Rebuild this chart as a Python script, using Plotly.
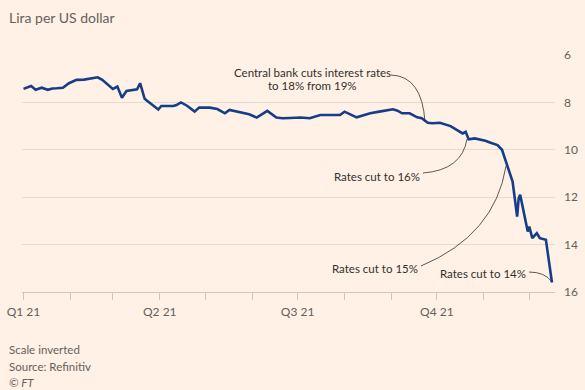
import plotly.graph_objects as go

# ---- data ----
dates = ["2021-01-01", "2021-01-06", "2021-01-09", "2021-01-13", "2021-01-17", "2021-01-20",
         "2021-01-23", "2021-01-27", "2021-01-31", "2021-02-05", "2021-02-10", "2021-02-15",
         "2021-02-19", "2021-02-22", "2021-02-26", "2021-03-01", "2021-03-04", "2021-03-07",
         "2021-03-10", "2021-03-14", "2021-03-17", "2021-03-19", "2021-03-22", "2021-03-24",
         "2021-03-27", "2021-03-31", "2021-04-02", "2021-04-06", "2021-04-10", "2021-04-12",
         "2021-04-15", "2021-04-19", "2021-04-24", "2021-04-27", "2021-05-04", "2021-05-09",
         "2021-05-14", "2021-05-17", "2021-05-22", "2021-05-26", "2021-05-30", "2021-06-04",
         "2021-06-11", "2021-06-17", "2021-06-21", "2021-06-26", "2021-07-03", "2021-07-09",
         "2021-07-16", "2021-07-29", "2021-08-01", "2021-08-09", "2021-08-18", "2021-08-24",
         "2021-09-02", "2021-09-05", "2021-09-08", "2021-09-13", "2021-09-18", "2021-09-21",
         "2021-09-25", "2021-09-28", "2021-10-03", "2021-10-10", "2021-10-14", "2021-10-18",
         "2021-10-20", "2021-10-22", "2021-10-26", "2021-10-30", "2021-11-02", "2021-11-05",
         "2021-11-10", "2021-11-13", "2021-11-15", "2021-11-17", "2021-11-20", "2021-11-23",
         "2021-11-24", "2021-11-25", "2021-11-28", "2021-11-30", "2021-12-01", "2021-12-03",
         "2021-12-06", "2021-12-08", "2021-12-12", "2021-12-13", "2021-12-16"]
lira_per_usd = [7.43, 7.31, 7.47, 7.38, 7.47, 7.41, 7.40, 7.38, 7.19, 7.05, 7.04, 6.98,
                6.94, 7.05, 7.29, 7.43, 7.33, 7.80, 7.52, 7.48, 7.45, 7.19, 7.85, 7.95,
                8.10, 8.30, 8.15, 8.14, 8.15, 8.11, 8.00, 8.14, 8.39, 8.22, 8.22, 8.28,
                8.46, 8.32, 8.39, 8.46, 8.50, 8.64, 8.36, 8.64, 8.67, 8.66, 8.64, 8.67,
                8.53, 8.53, 8.39, 8.63, 8.46, 8.39, 8.29, 8.35, 8.46, 8.46, 8.63, 8.67,
                8.86, 8.88, 8.86, 9.00, 9.14, 9.31, 9.24, 9.56, 9.52, 9.56, 9.62, 9.69,
                9.80, 10.00, 10.36, 10.78, 11.34, 12.82, 12.05, 11.90, 12.82, 13.45, 13.24, 13.73,
                13.52, 13.73, 13.80, 14.23, 15.60]

month_ticks = ["2021-01-01", "2021-02-01", "2021-03-01", "2021-04-01", "2021-05-01", "2021-06-01",
               "2021-07-01", "2021-08-01", "2021-09-01", "2021-10-01", "2021-11-01", "2021-12-01"]
month_tick_labels = ["Q1 21", "", "", "Q2 21", "", "", "Q3 21", "", "", "Q4 21", "", ""]
y_ticks = [6, 8, 10, 12, 14, 16]

annotation_texts = ["Central bank cuts interest rates", "to 18% from 19%",
                    "Rates cut to 16%", "Rates cut to 15%", "Rates cut to 14%"]

# ---- layout geometry ----
W, H = 585, 390
L, R, T, B = 22, 30, 55, 98
PW, PH = W - L - R, H - T - B


def px(x):
    return (x - L) / PW


def py(y):
    return (H - B - y) / PH


BG = "#FFF1E5"
GRID = "#E7DACE"
AXIS = "#CFC5BC"
MUTED = "#66605C"
TEXT = "#33302E"
LINE = "#163D8A"
FONT = "Lato"

fig = go.Figure()
fig.add_trace(go.Scatter(x=dates, y=lira_per_usd, mode="lines",
                         line=dict(color=LINE, width=2.6), hoverinfo="skip",
                         showlegend=False))

fig.update_layout(
    width=W, height=H,
    margin=dict(l=L, r=R, t=T, b=B, pad=0, autoexpand=False),
    paper_bgcolor=BG, plot_bgcolor=BG,
    font=dict(family=FONT, color=MUTED, size=12),
    showlegend=False,
    xaxis=dict(
        type="date", automargin=False,
        range=["2020-12-31", "2021-12-18"],
        tickmode="array", tickvals=month_ticks, ticktext=month_tick_labels,
        ticks="outside", ticklen=7, tickwidth=1, tickcolor=AXIS,
        showline=True, linecolor=AXIS, linewidth=1,
        showgrid=False, zeroline=False,
        tickfont=dict(size=12, color=MUTED, family=FONT),
        ticklabelstandoff=2,
    ),
    yaxis=dict(
        range=[16, 6], side="right", automargin=False,
        tickmode="array", tickvals=y_ticks,
        showgrid=True, gridcolor=GRID, gridwidth=1,
        zeroline=False, showline=False, ticks="",
        tickfont=dict(size=12, color=MUTED, family=FONT),
        ticklabelstandoff=8,
    ),
)

ann = []
# title and footer
ann.append(dict(text="Lira per US dollar", xref="paper", yref="paper", x=px(7), y=py(18),
                xanchor="left", yanchor="middle", showarrow=False,
                font=dict(size=14, color=MUTED, family=FONT)))
footer = ["Scale inverted", "Source: Refinitiv"]
for i, t in enumerate(footer):
    ann.append(dict(text=t, xref="paper", yref="paper", x=px(7), y=py(349 + 17 * i),
                    xanchor="left", yanchor="middle", showarrow=False,
                    font=dict(size=11.5, color=MUTED, family=FONT)))
ann.append(dict(text="<i>© FT</i>", xref="paper", yref="paper", x=px(7), y=py(382),
                xanchor="left", yanchor="middle", showarrow=False,
                font=dict(size=11.5, color=MUTED, family=FONT)))

# event labels
label_pos = [(312, 72, "center"), (312, 86, "center"),
             (422, 176, "right"), (420, 268, "right"), (528, 273, "right")]
for t, (x, y, a) in zip(annotation_texts, label_pos):
    ann.append(dict(text=t, xref="paper", yref="paper", x=px(x), y=py(y),
                    xanchor=a, yanchor="middle", showarrow=False,
                    font=dict(size=11.5, color=TEXT, family=FONT)))
fig.update_layout(annotations=ann)

# curved leader lines


def curve(p0, c, p1):
    return (f"M {px(p0[0])},{py(p0[1])} Q {px(c[0])},{py(c[1])} {px(p1[0])},{py(p1[1])}")


leaders = [((391, 75), (422, 76), (425, 122)),
           ((423, 173), (462, 170), (467, 139)),
           ((421, 266), (495, 235), (506, 166)),
           ((529, 272), (545, 272), (552, 282))]
for p0, c, p1 in leaders:
    fig.add_shape(type="path", xref="paper", yref="paper", path=curve(p0, c, p1),
                  line=dict(color="#33302E", width=0.8), layer="above")

fig.write_html("out.html", config={"displayModeBar": False},
               post_script="document.body.style.margin='0';document.body.style.padding='0';"
                           "document.body.style.background='#FFF1E5';")
